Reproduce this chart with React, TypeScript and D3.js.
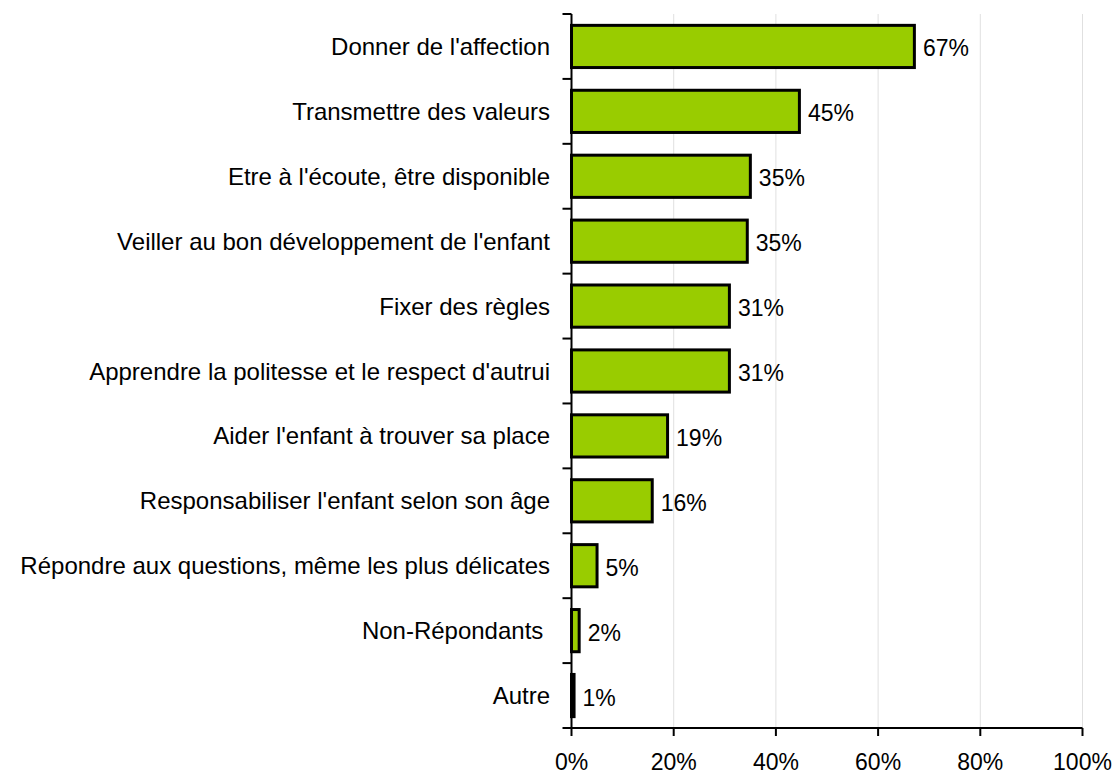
import React from "react";
import * as d3 from "d3";

const categories = [
  "Donner de l'affection",
  "Transmettre des valeurs",
  "Etre à l'écoute, être disponible",
  "Veiller au bon développement de l'enfant",
  "Fixer des règles",
  "Apprendre la politesse et le respect d'autrui",
  "Aider l'enfant à trouver sa place",
  "Responsabiliser l'enfant selon son âge",
  "Répondre aux questions, même les plus délicates",
  "Non-Répondants ",
  "Autre",
];
const values = [67.1, 44.6, 35.0, 34.4, 30.9, 30.9, 18.8, 15.8, 5.0, 1.5, 0.5];
const valueLabels = ["67%", "45%", "35%", "35%", "31%", "31%", "19%", "16%", "5%", "2%", "1%"];
const xTicks = [0, 20, 40, 60, 80, 100];

const W = 1115;
const H = 776;
const FONT = "'Liberation Sans', Arial, sans-serif";
const FS = 23;
const CAT_FS = 24;

export default function App() {
  const x = d3.scaleLinear().domain([0, 100]).range([571.5, 1082.5]);
  const y = d3
    .scaleBand<string>()
    .domain(categories)
    .range([14, 728])
    .paddingInner(0.35)
    .paddingOuter(0.175);
  const step = y.step();
  const top = y.range()[0];
  const bottom = y.range()[1];
  const boundaries = d3.range(categories.length + 1).map((i) => top + i * step);

  return (
    <svg
      width={W}
      height={H}
      style={{ position: "absolute", left: 0, top: 0, background: "#fff" }}
      fontFamily={FONT}
    >
      {/* gridlines */}
      {xTicks.slice(1).map((t) => (
        <line
          key={"g" + t}
          x1={x(t)}
          x2={x(t)}
          y1={top}
          y2={bottom}
          stroke="#e0e0e0"
          strokeWidth={1}
        />
      ))}
      {/* bars */}
      {categories.map((c, i) => (
        <rect
          key={"b" + i}
          x={x(0)}
          y={y(c)}
          width={Math.max(0, x(values[i]) - x(0))}
          height={y.bandwidth()}
          fill="#99CC00"
          stroke="#000"
          strokeWidth={3}
        />
      ))}
      {/* y axis */}
      <line x1={x(0)} x2={x(0)} y1={top} y2={bottom} stroke="#000" strokeWidth={2} />
      {boundaries.map((b, i) => (
        <line key={"yt" + i} x1={x(0) - 9} x2={x(0)} y1={b} y2={b} stroke="#000" strokeWidth={2} />
      ))}
      {/* x axis */}
      <line x1={x(0)} x2={x(100)} y1={bottom} y2={bottom} stroke="#000" strokeWidth={2} />
      {xTicks.map((t) => (
        <g key={"xt" + t}>
          <line x1={x(t)} x2={x(t)} y1={bottom} y2={bottom + 8} stroke="#000" strokeWidth={2} />
          <text x={x(t)} y={770} textAnchor="middle" fontSize={FS} fill="#000">
            {t + "%"}
          </text>
        </g>
      ))}
      {/* category labels */}
      {categories.map((c) => (
        <text
          key={"c" + c}
          x={550}
          y={(y(c) as number) + y.bandwidth() / 2 + 8.5}
          textAnchor="end"
          fontSize={CAT_FS}
          fill="#000"
          style={{ whiteSpace: "pre" }}
        >
          {c}
        </text>
      ))}
      {/* value labels */}
      {categories.map((c, i) => (
        <text
          key={"v" + i}
          x={x(values[i]) + 8.5}
          y={(y(c) as number) + y.bandwidth() / 2 + 10}
          fontSize={FS}
          fill="#000"
        >
          {valueLabels[i]}
        </text>
      ))}
    </svg>
  );
}
